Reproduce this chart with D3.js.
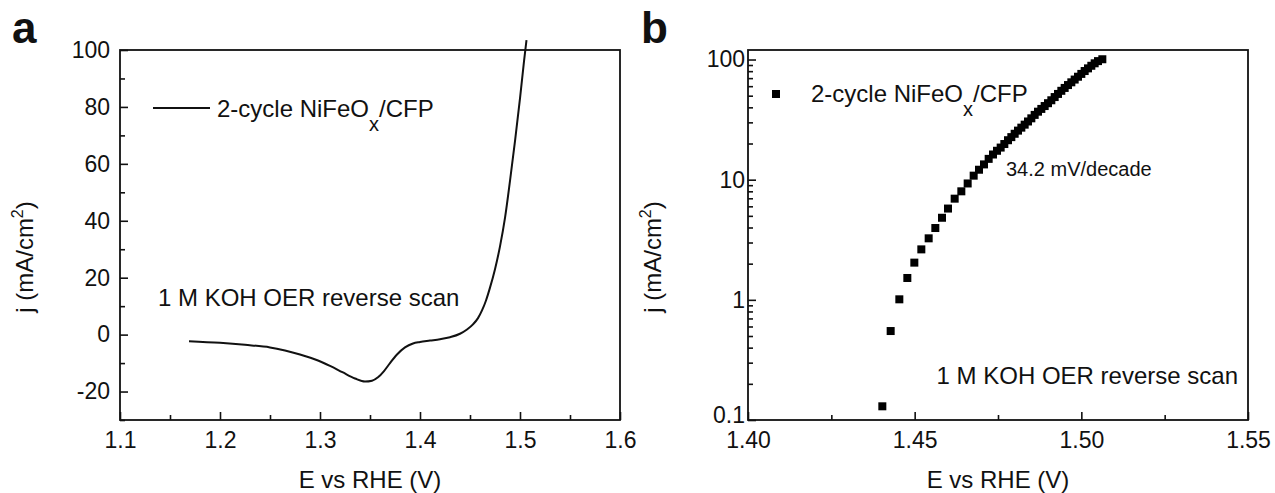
<!DOCTYPE html>
<html lang="en">
<head>
<meta charset="UTF-8" />
<title>NiFeOx/CFP OER</title>
<script src="https://cdn.jsdelivr.net/npm/d3@7"></script>
<style>
  body { margin: 0; background: #fff; }
  svg text { font-family: "Liberation Sans", Arial, sans-serif; fill: #111; }
</style>
</head>
<body>
<svg id="vis" width="1275" height="493"></svg>
<script>
// panel a : polarisation curve (E in V, j in mA/cm2)
const lsvE = [1.169, 1.20, 1.225, 1.25, 1.265, 1.28, 1.298, 1.31, 1.3224, 1.335, 1.345, 1.352, 1.358,
  1.364, 1.370, 1.377, 1.385, 1.393, 1.40, 1.41, 1.42, 1.43, 1.44, 1.447, 1.453, 1.458, 1.462,
  1.466, 1.470, 1.475, 1.480, 1.485, 1.490, 1.495, 1.500, 1.504, 1.5065];
const lsvJ = [-2.3, -2.9, -3.6, -4.5, -5.6, -7.0, -9.1, -11.0, -13.2, -15.4, -16.5, -16.2, -15.0,
  -12.8, -10.0, -7.0, -4.5, -3.1, -2.6, -2.1, -1.6, -0.9, 0.3, 1.8, 3.6, 5.8, 8.5,
  12, 16.5, 23, 31, 41, 54, 68, 83, 96, 103.5];

// panel b : Tafel plot (same scan, log j)
const tafelE = [1.4403, 1.4428, 1.4454, 1.4478, 1.4499, 1.4520, 1.4542, 1.4562, 1.4582, 1.4600,
  1.4620, 1.4640, 1.4659, 1.4677, 1.4693, 1.4708, 1.4722, 1.4735, 1.4747, 1.4758, 1.4769,
  1.4780, 1.4790, 1.4800, 1.4810, 1.4820, 1.4830, 1.4840, 1.4850, 1.4860, 1.4870, 1.4880,
  1.4890, 1.4900, 1.4910, 1.4920, 1.4930, 1.4940, 1.4950, 1.4960, 1.4970, 1.4980, 1.4990,
  1.5000, 1.5010, 1.5020, 1.5030, 1.5040, 1.5050, 1.5063];
const tafelJ = [0.13, 0.55, 1.01, 1.52, 2.04, 2.63, 3.25, 3.96, 4.82, 5.75,
  6.95, 8.0, 9.3, 10.8, 12.1, 13.4, 14.9, 16.2, 17.4, 18.5, 19.8,
  21.3, 22.6, 24.1, 25.6, 27.1, 28.7, 30.5, 32.4, 34.6, 36.8, 38.8,
  41.0, 43.3, 45.8, 48.7, 51.7, 54.9, 58.0, 61.3, 64.6, 68.1, 71.9,
  75.9, 80.2, 84.4, 88.7, 93.0, 97.0, 100.5];

// ticks
const aTicksX = [1.1, 1.2, 1.3, 1.4, 1.5, 1.6];
const aMinorX = [1.15, 1.25, 1.35, 1.45, 1.55];
const aTicksY = [-20, 0, 20, 40, 60, 80, 100];
const aMinorY = [-30, -10, 10, 30, 50, 70, 90];
const bTicksX = [1.40, 1.45, 1.50, 1.55];
const bMinorX = [1.425, 1.475, 1.525];
const bTicksY = [0.1, 1, 10, 100];
const bMinorY = [0.2, 0.3, 0.4, 0.5, 0.6, 0.7, 0.8, 0.9, 2, 3, 4, 5, 6, 7, 8, 9, 20, 30, 40, 50, 60, 70, 80, 90];

const legendLabel = "2-cycle NiFeO";
const noteText = "1 M KOH OER reverse scan";
const slopeText = "34.2 mV/decade";

const svg = d3.select("#vis");
const plotTop = 50, plotBottom = 420;

// draws the frame + inward ticks for one panel
function frame(g, x, y, ticksX, minorX, ticksY, minorY, fmtX, fmtY, padY) {
  const [x0, x1] = x.range();
  const ax = g.append("g").attr("transform", `translate(0,${plotBottom})`)
    .call(d3.axisBottom(x).tickValues(ticksX).tickSizeInner(-8).tickSizeOuter(0).tickPadding(12).tickFormat(fmtX));
  const axm = g.append("g").attr("transform", `translate(0,${plotBottom})`)
    .call(d3.axisBottom(x).tickValues(minorX).tickSizeInner(-5).tickSizeOuter(0).tickFormat(""));
  const ay = g.append("g").attr("transform", `translate(${x0},0)`)
    .call(d3.axisLeft(y).tickValues(ticksY).tickSizeInner(-8).tickSizeOuter(0).tickPadding(padY).tickFormat(fmtY));
  const aym = g.append("g").attr("transform", `translate(${x0},0)`)
    .call(d3.axisLeft(y).tickValues(minorY).tickSizeInner(-5).tickSizeOuter(0).tickFormat(""));
  [ax, axm, ay, aym].forEach(a => {
    a.select(".domain").remove();
    a.selectAll("line").attr("stroke", "#111").attr("stroke-width", 1.6);
    a.selectAll("text").style("font-size", "23px").attr("fill", "#111");
  });
  g.append("rect").attr("x", x0).attr("y", plotTop).attr("width", x1 - x0).attr("height", plotBottom - plotTop)
    .attr("fill", "none").attr("stroke", "#111").attr("stroke-width", 1.8);

  // axis titles
  g.append("text").attr("x", (x0 + x1) / 2).attr("y", 488).attr("text-anchor", "middle")
    .style("font-size", "24px").text("E vs RHE (V)");
  const yt = g.append("text").attr("transform", `translate(${x0 - 87},257) rotate(-90)`)
    .attr("text-anchor", "middle").style("font-size", "24px");
  yt.append("tspan").text("j (mA/cm");
  yt.append("tspan").attr("dy", -10).style("font-size", "16px").text("2");
  yt.append("tspan").attr("dy", 10).text(")");
  return ay;
}

function legendText(g, x, y) {
  const t = g.append("text").attr("x", x).attr("y", y).style("font-size", "24px");
  t.append("tspan").text(legendLabel);
  t.append("tspan").attr("dy", 14).style("font-size", "20px").text("x");
  t.append("tspan").attr("dy", -14).text("/CFP");
}

// ---- panel a
const xa = d3.scaleLinear().domain([1.1, 1.6]).range([120, 620]);
const ya = d3.scaleLinear().domain([-30, 100]).range([plotBottom, plotTop]);
const ga = svg.append("g");
frame(ga, xa, ya, aTicksX, aMinorX, aTicksY, aMinorY, d3.format(".1f"), d => String(d), 10);

const line = d3.line().x((d, i) => xa(lsvE[i])).y(d => ya(d)).curve(d3.curveMonotoneX);
ga.append("path").datum(lsvJ).attr("d", line).attr("fill", "none").attr("stroke", "#111").attr("stroke-width", 2);

ga.append("line").attr("x1", 153).attr("x2", 210).attr("y1", 108).attr("y2", 108)
  .attr("stroke", "#111").attr("stroke-width", 2);
legendText(ga, 217, 117);
ga.append("text").attr("x", 158).attr("y", 306).style("font-size", "24px").text(noteText);
ga.append("text").attr("x", 12).attr("y", 43).style("font-size", "44px").style("font-weight", "bold").text("a");

// ---- panel b
const xb = d3.scaleLinear().domain([1.40, 1.55]).range([748, 1248]);
const yb = d3.scaleLog().domain([0.1, 120]).range([plotBottom, plotTop]);
const gb = svg.append("g");
const ayb = frame(gb, xb, yb, bTicksX, bMinorX, bTicksY, bMinorY, d3.format(".2f"), d => d < 1 ? "0.1" : String(d), 3);
// the lowest label sits a little higher, as in the source figure
ayb.selectAll("text").filter(d => d < 1).attr("dy", "0.12em");

const sq = 8;
gb.append("g").selectAll("rect").data(tafelJ).join("rect")
  .attr("x", (d, i) => xb(tafelE[i]) - sq / 2)
  .attr("y", d => yb(d) - sq / 2)
  .attr("width", sq).attr("height", sq).attr("fill", "#000");

gb.append("rect").attr("x", 776 - sq / 2).attr("y", 94 - sq / 2).attr("width", sq).attr("height", sq).attr("fill", "#000");
legendText(gb, 811, 102);
gb.append("text").attr("x", 1006).attr("y", 176).style("font-size", "20px").text(slopeText);
gb.append("text").attr("x", 1238).attr("y", 384).attr("text-anchor", "end").style("font-size", "24px").text(noteText);
gb.append("text").attr("x", 641).attr("y", 43).style("font-size", "44px").style("font-weight", "bold").text("b");
</script>
</body>
</html>
